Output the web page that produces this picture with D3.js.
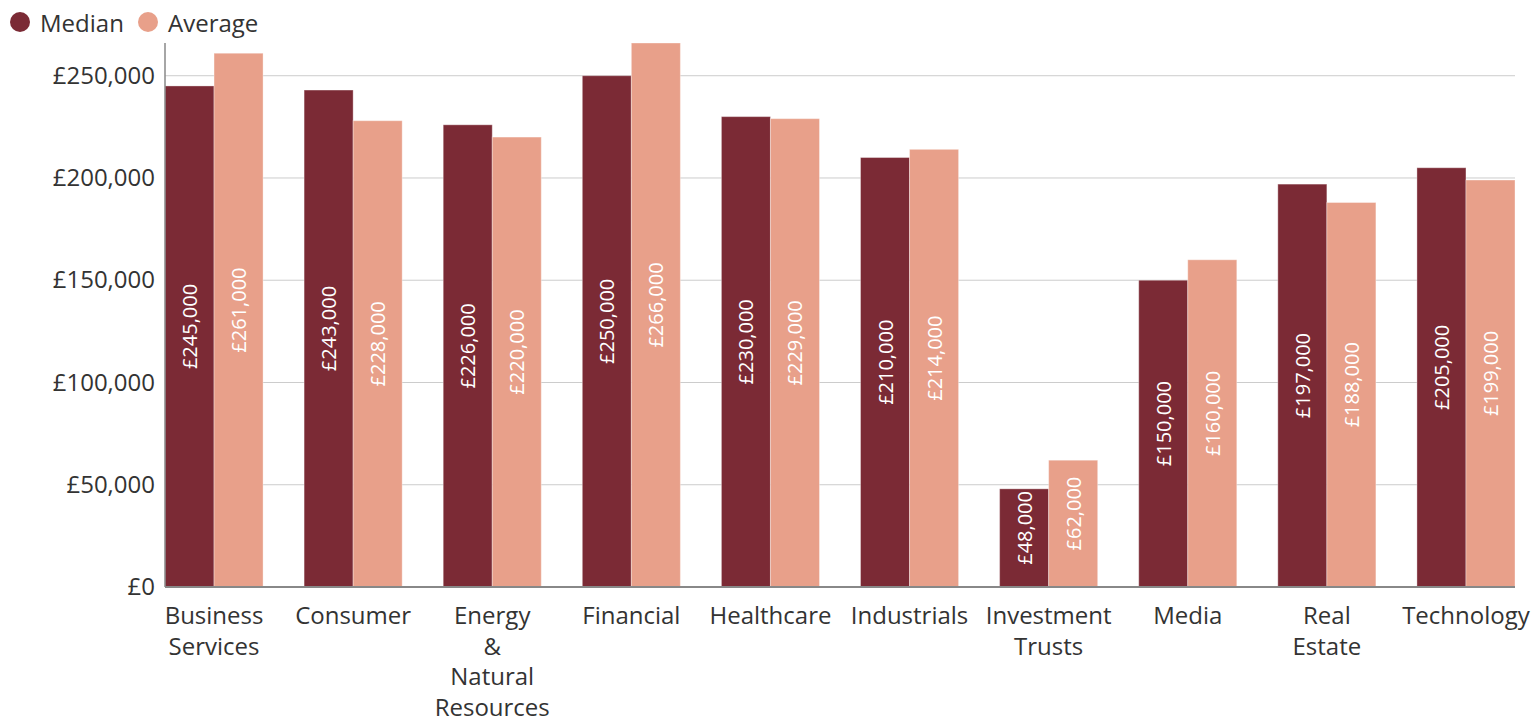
<!DOCTYPE html>
<html><head><meta charset="utf-8">
<script src="https://cdn.jsdelivr.net/npm/d3@7"></script>
<style>
body{margin:0;background:#fff;}
text{font-family:"Open Sans","Noto Sans",sans-serif;}
</style></head>
<body><svg id="c" width="1537" height="721"></svg>
<script>
const categories = ["Business Services","Consumer","Energy & Natural Resources","Financial","Healthcare","Industrials","Investment Trusts","Media","Real Estate","Technology"];
const seriesNames = ["Median","Average"];
const medianValues = [245000,243000,226000,250000,230000,210000,48000,150000,197000,205000];
const averageValues = [261000,228000,220000,266000,229000,214000,62000,160000,188000,199000];
const yTicks = [0,50000,100000,150000,200000,250000];
const colors = ["#7b2a35","#e8a08a"];

const svg = d3.select("#c");
const mLeft = 165, mRight = 1515, mTop = 43, mBottom = 587;
const x0 = d3.scaleBand().domain(categories).range([mLeft,mRight]).paddingInner(0.295).paddingOuter(0);
const x1 = d3.scaleBand().domain(seriesNames).range([0,x0.bandwidth()]);
const y = d3.scaleLinear().domain([0,266000]).range([mBottom,mTop]);
const fmt = v => "£" + d3.format(",")(v);

// grid
svg.append("g").selectAll("line").data(yTicks.filter(d=>d>0)).join("line")
  .attr("x1",mLeft).attr("x2",mRight).attr("y1",d=>y(d)).attr("y2",d=>y(d))
  .attr("stroke","#cccccc").attr("stroke-width",1);

// y axis labels
const yAxis = d3.axisLeft(y).tickValues(yTicks).tickFormat(fmt).tickSize(0).tickPadding(10);
const yg = svg.append("g").attr("transform",`translate(${mLeft},0)`).call(yAxis);
yg.select(".domain").remove();
yg.selectAll("text").attr("font-size",24).attr("fill","#333").attr("font-family","'Open Sans','Noto Sans',sans-serif");

// bars
const data = categories.map((c,i)=>({cat:c, vals:[medianValues[i],averageValues[i]]}));
const groups = svg.append("g").selectAll("g").data(data).join("g")
  .attr("transform",d=>`translate(${x0(d.cat)},0)`);
groups.selectAll("rect").data(d=>d.vals.map((v,j)=>({v,s:seriesNames[j],j}))).join("rect")
  .attr("x",d=>x1(d.s)).attr("width",x1.bandwidth())
  .attr("y",d=>y(d.v)).attr("height",d=>y(0)-y(d.v))
  .attr("fill",d=>colors[d.j]).attr("stroke","rgba(255,255,255,0.35)").attr("stroke-width",1);
groups.selectAll("text.lbl").data(d=>d.vals.map((v,j)=>({v,s:seriesNames[j],j}))).join("text")
  .attr("class","lbl")
  .attr("transform",d=>`translate(${x1(d.s)+x1.bandwidth()/2},${(y(d.v)+y(0))/2 - 10}) rotate(-90)`)
  .attr("text-anchor","middle").attr("dominant-baseline","central")
  .attr("font-size",20).attr("fill","#fff").text(d=>fmt(d.v));

// axis lines
svg.append("line").attr("x1",mLeft).attr("x2",mLeft).attr("y1",mTop).attr("y2",mBottom).attr("stroke","#888").attr("stroke-width",1.5);
svg.append("line").attr("x1",mLeft).attr("x2",mRight).attr("y1",mBottom).attr("y2",mBottom).attr("stroke","#888").attr("stroke-width",2);

// x labels
const xl = svg.append("g").selectAll("text").data(categories).join("text")
  .attr("x",d=>x0(d)+x0.bandwidth()/2).attr("y",624)
  .attr("text-anchor","middle").attr("font-size",24).attr("fill","#333");
xl.selectAll("tspan").data(d=>d.split(" ")).join("tspan")
  .attr("x",function(){return this.parentNode.getAttribute("x");})
  .attr("dy",(d,i)=>i===0?0:30.5).text(d=>d);

// legend
const lg = svg.append("g");
const lx = [20,148];
seriesNames.forEach((s,i)=>{
  lg.append("circle").attr("cx",lx[i]).attr("cy",22).attr("r",10).attr("fill",colors[i]);
  lg.append("text").attr("x",lx[i]+20).attr("y",22).attr("dominant-baseline","central")
    .attr("font-size",24).attr("fill","#333").text(s);
});
</script></body></html>
